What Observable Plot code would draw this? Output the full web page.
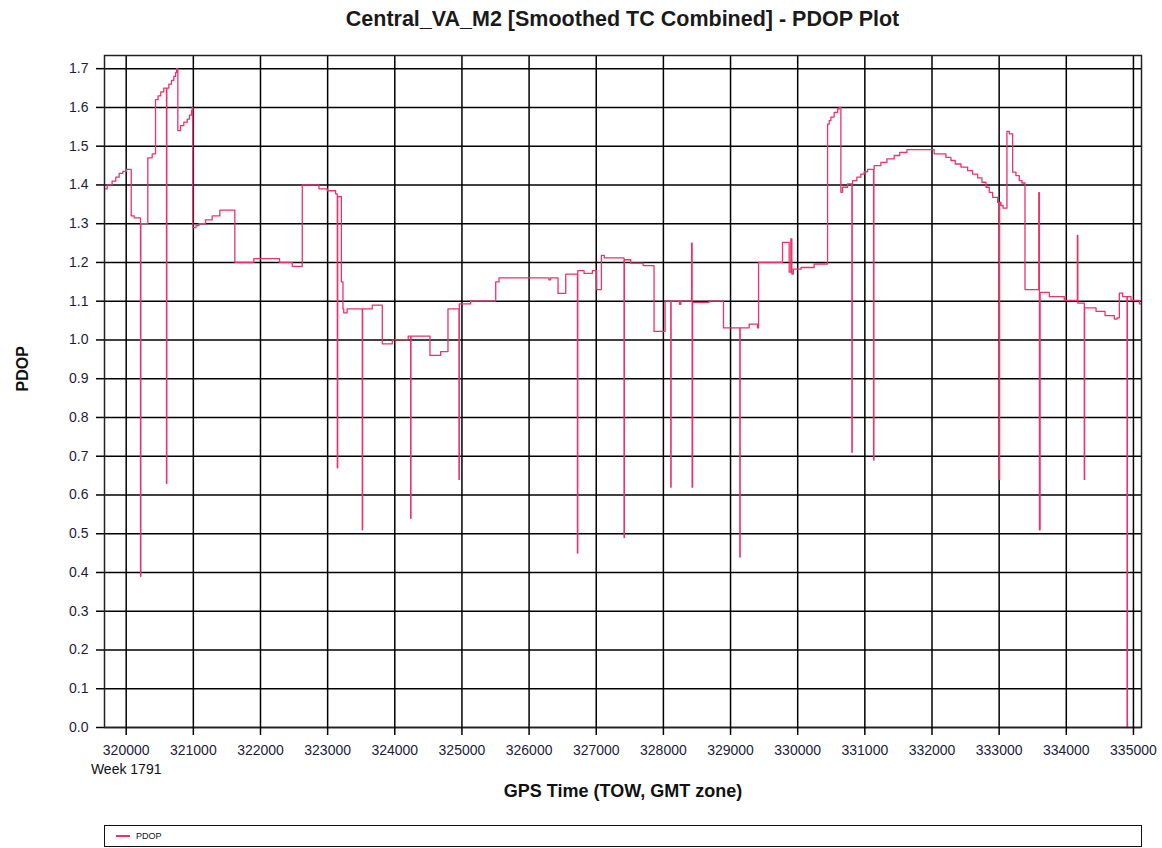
<!DOCTYPE html>
<html><head><meta charset="utf-8">
<script src="https://cdn.jsdelivr.net/npm/d3@7"></script>
<script src="https://cdn.jsdelivr.net/npm/@observablehq/plot@0.6"></script>
<style>
body{margin:0;background:#fff;font-family:"Liberation Sans",Arial,sans-serif;}
#wrap{width:1162px;height:848px;position:relative;overflow:hidden;background:#fff}
#title{height:40px;line-height:38px;margin-left:104px;width:1037px;text-align:center;font-weight:bold;font-size:21.5px;color:#1a1a1a}
#chart svg{display:block}
#legend{position:absolute;left:104px;top:825px;width:1038px;height:22px;box-sizing:border-box;border:1.5px solid #111;display:flex;align-items:center;font-size:9px;color:#111}
#legend .sw{display:inline-block;width:14px;height:1.5px;margin-left:11px;margin-right:6px}
</style></head>
<body>
<div id="wrap">
<div id="title"></div>
<div id="chart"></div>
<div id="legend"></div>
</div>
<script>
const titleText = "Central_VA_M2 [Smoothed TC Combined] - PDOP Plot";
const xLabel = "GPS Time (TOW, GMT zone)";
const yLabel = "PDOP";
const weekLabel = "Week 1791";
const seriesName = "PDOP";
const lineColor = "#e8336b";

const xTicks = [320000,321000,322000,323000,324000,325000,326000,327000,328000,329000,330000,331000,332000,333000,334000,335000];
const yTicks = [0,0.1,0.2,0.3,0.4,0.5,0.6,0.7,0.8,0.9,1.0,1.1,1.2,1.3,1.4,1.5,1.6,1.7];
const xDomain = [319677, 335120];
const yDomain = [0, 1.734];

// GPS time of week (s) and PDOP value, step series
const tow = [
319677,319717,319790,319845,319895,319950,320005,320075,320120,320213,320218,320322,320387,320437,320475,320515,320560,320600,320605,320635,
320675,320709,320735,320750,320769,320809,320858,320909,320943,320973,320983,320992,321040,321082,321182,321281,321395,321618,321901,322284,
322473,322622,322870,322995,323119,323144,323150,323204,323228,323240,323290,323516,323521,323665,323814,323963,324200,324236,324241,324524,
324683,324792,324956,324961,325130,325503,325552,326297,326320,326431,326546,326720,326725,326818,326943,327007,327077,327120,327414,327419,
327514,327698,327861,328025,328110,328115,328240,328260,328420,328428,328435,328681,328895,329138,329143,329277,329402,329417,329774,329873,
329898,329913,329935,330050,330245,330445,330469,330494,330543,330594,330618,330643,330668,330743,330807,330812,330817,330881,330940,330990,
331041,331130,331135,331139,331239,331328,331437,331520,331627,332033,332207,332282,332346,332431,332531,332605,332680,332744,332804,332853,
332903,332978,333002,333007,333027,333060,333116,333151,333201,333250,333300,333340,333385,333590,333600,333610,333747,333970,334165,334172,
334268,334273,334443,334577,334716,334756,334790,334840,334905,334910,334964,335088,335120
];
const pdop = [
1.39,1.40,1.41,1.42,1.43,1.435,1.44,1.32,1.315,0.39,1.30,1.47,1.48,1.62,1.63,1.64,1.65,0.63,1.65,1.66,
1.67,1.68,1.69,1.70,1.54,1.553,1.562,1.57,1.58,1.592,1.60,1.29,1.295,1.30,1.31,1.32,1.335,1.20,1.21,1.20,
1.19,1.40,1.39,1.385,1.377,0.67,1.37,1.15,1.08,1.07,1.08,0.51,1.08,1.09,0.99,1.00,1.01,0.54,1.01,0.96,
0.97,1.08,0.64,1.093,1.10,1.15,1.16,1.155,1.16,1.12,1.17,0.45,1.179,1.172,1.179,1.13,1.218,1.212,0.49,1.207,
1.198,1.192,1.022,1.10,0.62,1.10,1.092,1.10,1.25,0.62,1.097,1.10,1.031,0.44,1.031,1.041,1.031,1.20,1.252,1.175,
1.261,1.17,1.183,1.187,1.196,1.557,1.566,1.575,1.587,1.596,1.60,1.381,1.394,1.403,0.71,1.403,1.411,1.42,1.428,1.434,
1.44,0.69,1.44,1.45,1.458,1.467,1.476,1.484,1.491,1.48,1.471,1.463,1.454,1.446,1.437,1.428,1.418,1.407,1.394,1.381,
1.368,1.355,0.64,1.355,1.347,1.34,1.538,1.532,1.433,1.424,1.411,1.405,1.13,1.38,0.51,1.123,1.112,1.102,1.27,1.095,
0.64,1.083,1.074,1.063,1.054,1.057,1.121,1.112,0.0,1.112,1.102,1.093,1.093
];

const data = tow.map((t, i) => ({t, v: pdop[i]}));

document.getElementById("title").textContent = titleText;
const lg = document.getElementById("legend");
lg.innerHTML = `<span class="sw" style="background:${lineColor}"></span><span>${seriesName}</span>`;

const chart = Plot.plot({
  width: 1162,
  height: 780,
  marginLeft: 104,
  marginRight: 21,
  marginTop: 15,
  marginBottom: 93,
  style: {fontFamily: "'Liberation Sans', Arial, sans-serif", fontSize: "14px", color: "#1c1c3a", background: "#fff"},
  x: {domain: xDomain},
  y: {domain: yDomain},
  marks: [
    Plot.gridX(xTicks, {stroke: "#000", strokeOpacity: 1, strokeWidth: 1.5}),
    Plot.gridY(yTicks, {stroke: "#000", strokeOpacity: 1, strokeWidth: 1.5}),
    Plot.line(data, {x: "t", y: "v", curve: "step-after", stroke: lineColor, strokeWidth: 1.3}),
    Plot.frame({stroke: "#222", strokeWidth: 1.5}),
    Plot.axisX(xTicks, {tickSize: 8, tickPadding: 10, tickFormat: d => String(d), label: null, stroke: "#000", strokeWidth: 1.5, fontSize: 14}),
    Plot.axisY(yTicks, {tickSize: 8, tickPadding: 8, tickFormat: d3.format(".1f"), label: null, stroke: "#000", strokeWidth: 1.5, fontSize: 14}),
    Plot.text([weekLabel], {x: () => xTicks[0], frameAnchor: "bottom", dy: 46, text: d => d, fontSize: 14, fill: "#111"}),
    Plot.text([xLabel], {frameAnchor: "bottom", dy: 69, text: d => d, fontSize: 18, fontWeight: "bold", fill: "#111"}),
    Plot.text([yLabel], {frameAnchor: "left", dx: -82, rotate: -90, text: d => d, fontSize: 16, fontWeight: "bold", fill: "#111"})
  ]
});
document.getElementById("chart").appendChild(chart);
</script>
</body></html>
